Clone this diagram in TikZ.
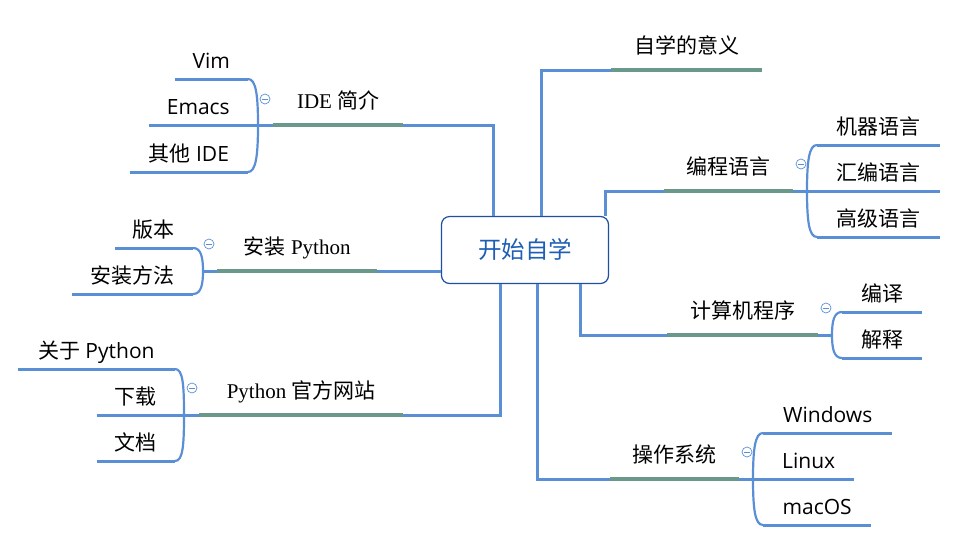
\documentclass[tikz,border=0pt]{standalone}
\usepackage{fontspec}
\setmainfont{Liberation Serif}
\newfontfamily\cjk{Noto Sans CJK SC}
\newfontfamily\lat{Open Sans}
\definecolor{colorLink}{HTML}{5A8FD6}
\definecolor{colorBar}{HTML}{6A998C}
\definecolor{colorRoot}{HTML}{1F4FA3}
\definecolor{colorRootText}{HTML}{1E5EB4}
\tikzset{fold/.style={circle, draw=colorLink, line width=0.7pt, minimum size=10pt, inner sep=0pt,
  path picture={\draw[colorLink, line width=0.7pt] ([xshift=-2.6pt]path picture bounding box.center) -- ([xshift=2.6pt]path picture bounding box.center);}}}

\begin{document}
\begin{tikzpicture}[x=1pt, y=-1pt,
  leafL/.style={font=\lat\fontsize{21}{25}\selectfont, inner xsep=0pt, inner ysep=0pt, text depth=10pt, anchor=south east},
  leafR/.style={leafL, anchor=south west},
  topic/.style={font=\fontsize{21}{25}\selectfont, inner xsep=0pt, inner ysep=0pt, text depth=16pt, anchor=south west},
  root/.style={draw=colorRoot, line width=1.2pt, rounded corners=8pt, fill=white, minimum width=167pt, minimum height=67pt, text=colorRootText, font=\cjk\fontsize{23.5}{28}\selectfont},
  link/.style={colorLink, line width=3pt},
  bar/.style={colorBar, line width=4pt},
  brace/.style={colorLink, line width=2.2pt}]
\useasboundingbox (0,0) rectangle (958,542);

\node[root] (root) at (525,250) {开始自学};

\node[topic, minimum width=151pt] (meaning) at (611,70) {\cjk 自学的意义};
\node[topic, minimum width=129pt] (prog) at (664,191) {\cjk 编程语言};
\node[topic, minimum width=151pt] (comp) at (667,335) {\cjk 计算机程序};
\node[topic, minimum width=129pt] (os) at (610,479) {\cjk 操作系统};
\node[topic, minimum width=130pt] (ide) at (273,125) {IDE {\cjk 简介}};
\node[topic, minimum width=160pt] (install) at (217,271) {{\cjk 安装} Python};
\node[topic, minimum width=204pt] (web) at (199,415) {Python {\cjk 官方网站}};

\coordinate (progtip) at (807,191);
\coordinate (comptip) at (832,335);
\coordinate (ostip) at (753,479);
\coordinate (idetip) at (258,125);
\coordinate (insttip) at (203,271);
\coordinate (webtip) at (184,415);

\node[leafR, minimum width=123pt] (mach) at (817,145) {\cjk 机器语言};
\node[leafR, minimum width=123pt] (asm) at (817,191) {\cjk 汇编语言};
\node[leafR, minimum width=123pt] (high) at (817,237) {\cjk 高级语言};
\node[leafR, minimum width=80pt] (compile) at (842,312) {\cjk 编译};
\node[leafR, minimum width=80pt] (interp) at (842,358) {\cjk 解释};
\node[leafR, minimum width=129pt] (win) at (763,433) {Windows};
\node[leafR, minimum width=91pt] (linux) at (763,479) {Linux};
\node[leafR, minimum width=108pt] (mac) at (763,525) {macOS};

\node[leafL, minimum width=73pt] (vim) at (248,79) {Vim};
\node[leafL, minimum width=99pt] (emacs) at (248,125) {Emacs};
\node[leafL, minimum width=118pt] (other) at (248,172) {{\cjk 其他} IDE};
\node[leafL, minimum width=78pt] (ver) at (193,248) {\cjk 版本};
\node[leafL, minimum width=121pt] (method) at (193,294) {\cjk 安装方法};
\node[leafL, minimum width=157pt] (about) at (175,369) {{\cjk 关于} Python};
\node[leafL, minimum width=78pt] (down) at (175,415) {\cjk 下载};
\node[leafL, minimum width=78pt] (doc) at (175,461) {\cjk 文档};

\draw[link] ([xshift=16pt]root.north) |- (meaning.south west);
\draw[link] ([xshift=80pt]root.north) |- (prog.south west);
\draw[link] ([xshift=55pt]root.south) |- (comp.south west);
\draw[link] ([xshift=12pt]root.south) |- (os.south west);
\draw[link] ([xshift=-32pt]root.north) |- (ide.south east);
\draw[link] (install.south east) -- (install.south east -| root.west);
\draw[link] ([xshift=-25pt]root.south) |- (web.south east);

\draw[link] (prog.south east) -- (progtip);
\draw[link] (comp.south east) -- (comptip);
\draw[link] (os.south east) -- (ostip);
\draw[link] (ide.south west) -- (idetip);
\draw[link] (install.south west) -- (insttip);
\draw[link] (web.south west) -- (webtip);

\foreach \n in {meaning, prog, comp, os, ide, install, web}
  \draw[bar] (\n.south west) -- (\n.south east);

\foreach \n in {mach, high, compile, interp, win, mac, vim, other, ver, method, about, doc}
  \draw[link] (\n.south west) -- (\n.south east);
\draw[link] (progtip) -- (asm.south east);
\draw[link] (ostip) -- (linux.south east);
\draw[link] (emacs.south west) -- (idetip);
\draw[link] (down.south west) -- (webtip);

\draw[brace] (mach.south west) .. controls +(-8,0) and +(0,-30) .. (progtip) .. controls +(0,30) and +(-8,0) .. (high.south west);
\draw[brace] (compile.south west) .. controls +(-8,0) and +(0,-14) .. (comptip) .. controls +(0,14) and +(-8,0) .. (interp.south west);
\draw[brace] (win.south west) .. controls +(-8,0) and +(0,-30) .. (ostip) .. controls +(0,30) and +(-8,0) .. (mac.south west);
\draw[brace] (vim.south east) .. controls +(8,0) and +(0,-30) .. (idetip) .. controls +(0,30) and +(8,0) .. (other.south east);
\draw[brace] (ver.south east) .. controls +(8,0) and +(0,-14) .. (insttip) .. controls +(0,14) and +(8,0) .. (method.south east);
\draw[brace] (about.south east) .. controls +(8,0) and +(0,-30) .. (webtip) .. controls +(0,30) and +(8,0) .. (doc.south east);

\node[fold] (progfold) at ([shift={(-6,-27)}]progtip) {};
\node[fold] (compfold) at ([shift={(-6,-27)}]comptip) {};
\node[fold] (osfold) at ([shift={(-6,-27)}]ostip) {};
\node[fold] (idefold) at ([shift={(7,-26)}]idetip) {};
\node[fold] (instfold) at ([shift={(6,-27)}]insttip) {};
\node[fold] (webfold) at ([shift={(8,-27)}]webtip) {};
\end{tikzpicture}
\end{document}
